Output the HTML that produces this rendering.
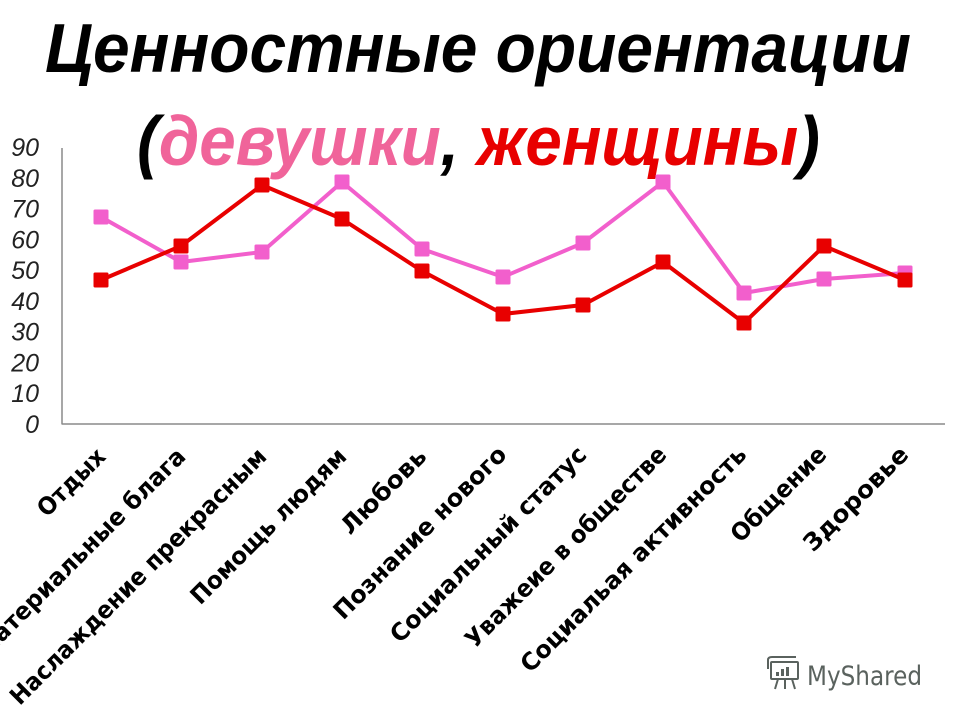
<!DOCTYPE html>
<html><head><meta charset="utf-8"><style>
html,body{margin:0;padding:0;background:#fff;}
svg{display:block;}
</style></head><body>
<svg width="960" height="720" viewBox="0 0 960 720" xmlns="http://www.w3.org/2000/svg">
<rect width="960" height="720" fill="#fff"/>
<!-- axes -->
<line x1="62" y1="148" x2="62" y2="424.5" stroke="#8a8a8a" stroke-width="1.5"/>
<line x1="62" y1="424" x2="945" y2="424" stroke="#8a8a8a" stroke-width="1.5"/>
<!-- y labels -->
<g font-family="Liberation Sans, Arial, sans-serif" font-style="italic" font-size="25" fill="#222" text-anchor="end">
<text x="39" y="433">0</text>
<text x="39" y="402.2">10</text>
<text x="39" y="371.4">20</text>
<text x="39" y="340.7">30</text>
<text x="39" y="309.9">40</text>
<text x="39" y="279.1">50</text>
<text x="39" y="248.3">60</text>
<text x="39" y="217.5">70</text>
<text x="39" y="186.8">80</text>
<text x="39" y="156">90</text>
</g>
<!-- title -->
<g font-family="Liberation Sans, Arial, sans-serif" font-weight="bold" font-style="italic" font-size="70">
<text x="478" y="72" text-anchor="middle" fill="#000" textLength="866" lengthAdjust="spacingAndGlyphs">Ценностные ориентации</text>
<text x="478.5" y="165" text-anchor="middle" fill="#000" textLength="683" lengthAdjust="spacingAndGlyphs">(<tspan fill="#f0649a">девушки</tspan>, <tspan fill="#e80000">женщины</tspan>)</text>
</g>
<!-- pink series -->
<polyline fill="none" stroke="#f25fcc" stroke-width="4" stroke-linejoin="round" points="101,217 181,262 262,252 342,182 422,249 503,277 583,243 663,182 744,293 824,279 905,273"/>
<g fill="#f25fcc">
<rect x="93.5" y="209.5" width="15" height="15" rx="1.5"/>
<rect x="173.5" y="254.5" width="15" height="15" rx="1.5"/>
<rect x="254.5" y="244.5" width="15" height="15" rx="1.5"/>
<rect x="334.5" y="174.5" width="15" height="15" rx="1.5"/>
<rect x="414.5" y="241.5" width="15" height="15" rx="1.5"/>
<rect x="495.5" y="269.5" width="15" height="15" rx="1.5"/>
<rect x="575.5" y="235.5" width="15" height="15" rx="1.5"/>
<rect x="655.5" y="174.5" width="15" height="15" rx="1.5"/>
<rect x="736.5" y="285.5" width="15" height="15" rx="1.5"/>
<rect x="816.5" y="271.5" width="15" height="15" rx="1.5"/>
<rect x="897.5" y="265.5" width="15" height="15" rx="1.5"/>
</g>
<!-- red series -->
<polyline fill="none" stroke="#e80000" stroke-width="4" stroke-linejoin="round" points="101,280 181,246 262,185 342,219 422,271 503,314 583,305 663,262 744,323 824,246 905,280"/>
<g fill="#e80000">
<rect x="93.5" y="272.5" width="15" height="15" rx="1.5"/>
<rect x="173.5" y="238.5" width="15" height="15" rx="1.5"/>
<rect x="254.5" y="177.5" width="15" height="15" rx="1.5"/>
<rect x="334.5" y="211.5" width="15" height="15" rx="1.5"/>
<rect x="414.5" y="263.5" width="15" height="15" rx="1.5"/>
<rect x="495.5" y="306.5" width="15" height="15" rx="1.5"/>
<rect x="575.5" y="297.5" width="15" height="15" rx="1.5"/>
<rect x="655.5" y="254.5" width="15" height="15" rx="1.5"/>
<rect x="736.5" y="315.5" width="15" height="15" rx="1.5"/>
<rect x="816.5" y="238.5" width="15" height="15" rx="1.5"/>
<rect x="897.5" y="272.5" width="15" height="15" rx="1.5"/>
</g>
<!-- x labels -->
<g font-family="DejaVu Sans, Verdana, sans-serif" font-weight="bold" font-size="24" fill="#000" text-anchor="end">
<text transform="translate(107,458) rotate(-45)" textLength="85" lengthAdjust="spacingAndGlyphs">Отдых</text>
<text transform="translate(187,458) rotate(-45)" textLength="285" lengthAdjust="spacingAndGlyphs">Материальные блага</text>
<text transform="translate(268,458) rotate(-45)" textLength="351" lengthAdjust="spacingAndGlyphs">Наслаждение прекрасным</text>
<text transform="translate(348,458) rotate(-45)" textLength="209" lengthAdjust="spacingAndGlyphs">Помощь людям</text>
<text transform="translate(428,458) rotate(-45)" textLength="110" lengthAdjust="spacingAndGlyphs">Любовь</text>
<text transform="translate(508,456) rotate(-45)" textLength="233" lengthAdjust="spacingAndGlyphs">Познание нового</text>
<text transform="translate(588,456) rotate(-45)" textLength="266" lengthAdjust="spacingAndGlyphs">Социальный статус</text>
<text transform="translate(668,456) rotate(-45)" textLength="273" lengthAdjust="spacingAndGlyphs">Уважеие в обществе</text>
<text transform="translate(748,456) rotate(-45)" textLength="308" lengthAdjust="spacingAndGlyphs">Социальая активность</text>
<text transform="translate(828,456) rotate(-45)" textLength="124" lengthAdjust="spacingAndGlyphs">Общение</text>
<text transform="translate(910,456) rotate(-45)" textLength="137" lengthAdjust="spacingAndGlyphs">Здоровье</text>
</g>
<!-- watermark -->
<g stroke="#5a625e" stroke-width="2" fill="none">
<rect x="771" y="662" width="27" height="17" rx="1"/>
<path d="M768,660 q0,-3 4,-3 h24 M768,660 v9"/>
<line x1="778" y1="679" x2="775" y2="689"/>
<line x1="785" y1="679" x2="785" y2="689"/>
<line x1="792" y1="679" x2="795" y2="689"/>
</g>
<g fill="#5a625e">
<rect x="776" y="672" width="3" height="4"/>
<rect x="781" y="669" width="3" height="7"/>
<rect x="786" y="667" width="3" height="9"/>
</g>
<text x="807" y="685" font-family="DejaVu Sans, Liberation Sans, sans-serif" font-size="27" fill="#5a625e" textLength="115" lengthAdjust="spacingAndGlyphs">MyShared</text>
</svg>
</body></html>
